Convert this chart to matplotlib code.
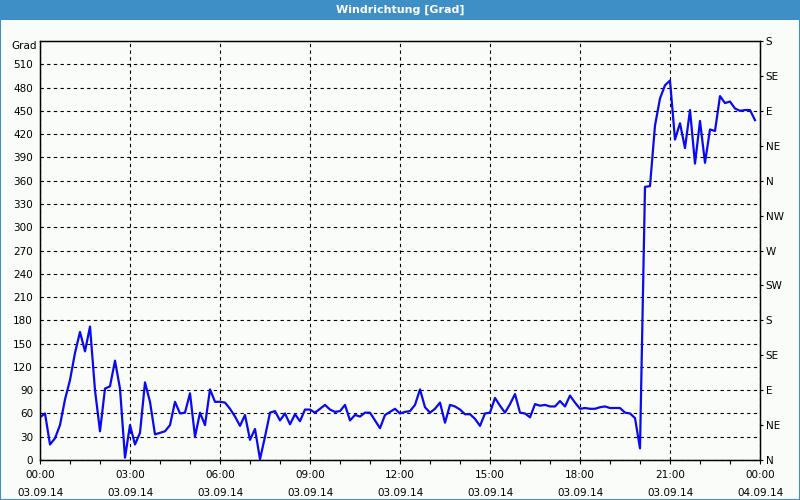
import matplotlib
matplotlib.use("Agg")
import matplotlib.pyplot as plt
from matplotlib.patches import Rectangle

# Wind direction, 10-minute readings from 00:00 to 23:50 (03.09.14)
minutes = list(range(0, 24 * 60, 10))
grad = [
    55, 60, 20, 28, 45, 78, 103, 138, 165, 140, 172, 90,      # 00:00 - 01:50
    37, 92, 95, 128, 92, 3, 45, 20, 35, 100, 75, 33,          # 02:00 - 03:50
    35, 37, 45, 75, 60, 61, 86, 30, 61, 45, 91, 75,           # 04:00 - 05:50
    75, 74, 66, 56, 44, 58, 26, 40, 1, 30, 61, 63,            # 06:00 - 07:50
    51, 60, 46, 59, 50, 65, 65, 61, 66, 71, 65, 62,           # 08:00 - 09:50
    63, 71, 51, 58, 56, 61, 61, 51, 41, 58, 62, 66,           # 10:00 - 11:50
    60, 62, 63, 71, 91, 68, 61, 66, 74, 48, 71, 69,           # 12:00 - 13:50
    65, 59, 59, 53, 44, 60, 61, 80, 70, 61, 72, 85,           # 14:00 - 15:50
    61, 60, 55, 72, 70, 71, 69, 69, 76, 69, 83, 74,           # 16:00 - 17:50
    66, 67, 66, 66, 68, 69, 67, 67, 67, 61, 60, 54,           # 18:00 - 19:50
    15, 352, 353, 431, 466, 483, 489, 413, 434, 402, 451, 382,  # 20:00 - 21:50
    437, 383, 426, 424, 469, 460, 462, 453, 450, 451, 451, 438,  # 22:00 - 23:50
]

y_ticks = list(range(0, 540, 30))
compass_vals = list(range(0, 541, 45))
compass_names = ["N", "NE", "E", "SE", "S", "SW", "W", "NW", "N", "NE", "E", "SE", "S"]
x_ticks = list(range(0, 24 * 60 + 1, 180))
x_labels = ["00:00\n03.09.14", "03:00\n03.09.14", "06:00\n03.09.14", "09:00\n03.09.14",
            "12:00\n03.09.14", "15:00\n03.09.14", "18:00\n03.09.14", "21:00\n03.09.14",
            "00:00\n04.09.14"]

bg = "#f9fcf9"
fig = plt.figure(figsize=(8, 5), dpi=100, facecolor=bg)

# title bar
fig.patches.append(Rectangle((0, 1 - 20 / 500), 1, 20 / 500, transform=fig.transFigure,
                             facecolor="#3d8fc6", edgecolor="none", zorder=0))
fig.patches.append(Rectangle((0, 0), 1, 1, transform=fig.transFigure, fill=False,
                             edgecolor="#3d8fc6", linewidth=1.5, zorder=5))
fig.text(0.5, 1 - 10 / 500, "Windrichtung [Grad]", color="white", ha="center", va="center",
         fontsize=8, fontweight="bold")

ax = fig.add_axes([40 / 800, 40 / 500, 720 / 800, 419 / 500])
ax.set_facecolor(bg)
ax.plot(minutes, grad, color="#0a0aee", linewidth=1.6, zorder=3)

ax.set_xlim(0, 24 * 60)
ax.set_ylim(0, 540)

ax.set_yticks(y_ticks)
ax.set_yticklabels([str(v) for v in y_ticks], fontsize=7.5)
ax.set_xticks(x_ticks)
ax.set_xticklabels(x_labels, fontsize=7.5, linespacing=2.0)
ax.set_xticks(list(range(0, 24 * 60 + 1, 60)), minor=True)
ax.tick_params(axis="x", which="both", direction="out", length=3, width=0.8, pad=4)
ax.tick_params(axis="y", direction="out", length=0, pad=5)

ax.grid(True, which="major", color="black", linestyle=(0, (3, 3)), linewidth=0.8)
ax.set_axisbelow(True)
ax.text(-0.005, 1.0, "Grad", transform=ax.transAxes, ha="right", va="top", fontsize=7.5)

for side in ["left", "right", "top", "bottom"]:
    ax.spines[side].set_color("black")
    ax.spines[side].set_linewidth(1.0)

ax2 = ax.twinx()
ax2.set_ylim(0, 540)
ax2.set_yticks(compass_vals)
ax2.set_yticklabels(compass_names, fontsize=7.5)
ax2.tick_params(axis="y", direction="out", length=2, pad=2)

fig.savefig("out.png", dpi=100, facecolor=bg)
